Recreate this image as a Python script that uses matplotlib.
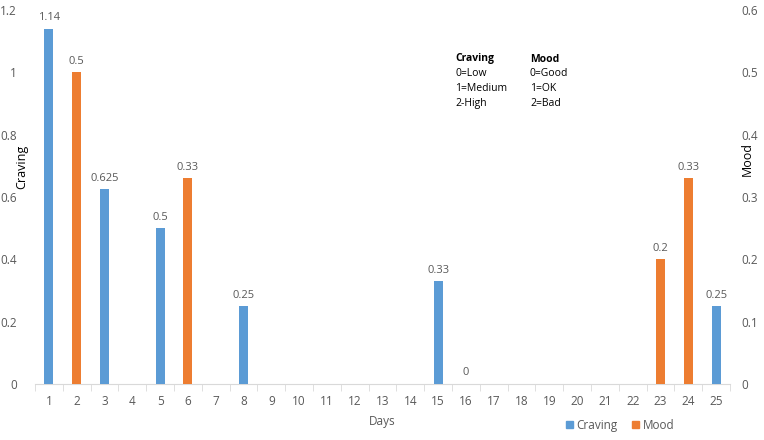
import matplotlib
matplotlib.use("Agg")
import matplotlib.pyplot as plt
from matplotlib.ticker import FixedLocator
from matplotlib.patches import Patch

days = list(range(1, 26))
craving_days = [1, 3, 5, 8, 15, 25]
craving_vals = [1.14, 0.625, 0.5, 0.25, 0.33, 0.25]
mood_days = [2, 6, 16, 23, 24]
mood_vals = [0.5, 0.33, 0, 0.2, 0.33]
left_ticks = [0, 0.2, 0.4, 0.6, 0.8, 1, 1.2]
right_ticks = [0, 0.1, 0.2, 0.3, 0.4, 0.5, 0.6]

BLUE = "#5B9BD5"
ORANGE = "#ED7D31"
GRAY = "#595959"
plt.rcParams['font.family'] = ['Open Sans', 'DejaVu Sans']

fig = plt.figure(figsize=(7.64, 4.40), dpi=100)
W, H = 764, 440
ax = fig.add_axes([35 / W, (H - 384) / H, (730 - 35) / W, (384 - 10) / H])
ax2 = ax.twinx()

bw = 0.32
ax.bar(craving_days, craving_vals, width=bw, color=BLUE, zorder=3)
ax2.bar(mood_days, mood_vals, width=bw, color=ORANGE, zorder=3)

for d, v in zip(craving_days, craving_vals):
    ax.annotate(f"{v:g}", (d, v), xytext=(0, 4), textcoords="offset points",
                ha="center", va="bottom", fontsize=8, color=GRAY)
for d, v in zip(mood_days, mood_vals):
    ax2.annotate(f"{v:g}", (d, v), xytext=(0, 4), textcoords="offset points",
                 ha="center", va="bottom", fontsize=8, color=GRAY)

ax.set_xlim(0.5, 25.5)
ax.set_ylim(0, 1.2)
ax2.set_ylim(0, 0.6)
ax.set_yticks(left_ticks)
ax.set_yticklabels([f"{t:g}" for t in left_ticks])
ax2.set_yticks(right_ticks)
ax2.set_yticklabels([f"{t:g}" for t in right_ticks])
ax.set_xticks(days)
ax.xaxis.set_minor_locator(FixedLocator([d + 0.5 for d in range(0, 26)]))

for a in (ax, ax2):
    for s in ("top", "left", "right"):
        a.spines[s].set_visible(False)
    a.spines["bottom"].set_color("#D9D9D9")
    a.tick_params(axis="y", length=0, labelsize=8.5, colors=GRAY)
ax2.spines["bottom"].set_visible(False)
ax.tick_params(axis="y", pad=13)
ax2.tick_params(axis="y", pad=8)
ax.tick_params(axis="x", which="major", length=0, labelsize=8.5, colors=GRAY, pad=8)
ax.tick_params(axis="x", which="minor", length=5, color="#D9D9D9", direction="out")

fig.text(21.5 / W, 1 - 167 / H, "Craving", rotation=90, ha="center", va="center",
         fontsize=9, color="black")
fig.text(747 / W, 1 - 159 / H, "Mood", rotation=90, ha="center", va="center",
         fontsize=9, color="black")
fig.text(382 / W, 1 - 421 / H, "Days", ha="center", va="center", fontsize=8.5, color=GRAY)

rows = [("Craving", "Mood"), ("0=Low", "0=Good"), ("1=Medium", "1=OK"), ("2-High", "2=Bad")]
for i, (a_txt, b_txt) in enumerate(rows):
    y = 1 - (59 + i * 14.8) / H
    wt = "bold" if i == 0 else "normal"
    fig.text(455 / W, y, a_txt, ha="left", va="center", fontsize=7.5, fontweight=wt, color="black")
    fig.text(530 / W, y, b_txt, ha="left", va="center", fontsize=7.5, fontweight=wt, color="black")

handles = [Patch(color=BLUE, label="Craving"), Patch(color=ORANGE, label="Mood")]
fig.legend(handles=handles, loc="center", bbox_to_anchor=(620 / W, 1 - 425 / H), ncol=2,
           frameon=False, fontsize=8.5, handlelength=0.6, handleheight=0.6,
           handletextpad=0.3, columnspacing=1.2, labelcolor=GRAY)

fig.savefig("out.png", dpi=100)
